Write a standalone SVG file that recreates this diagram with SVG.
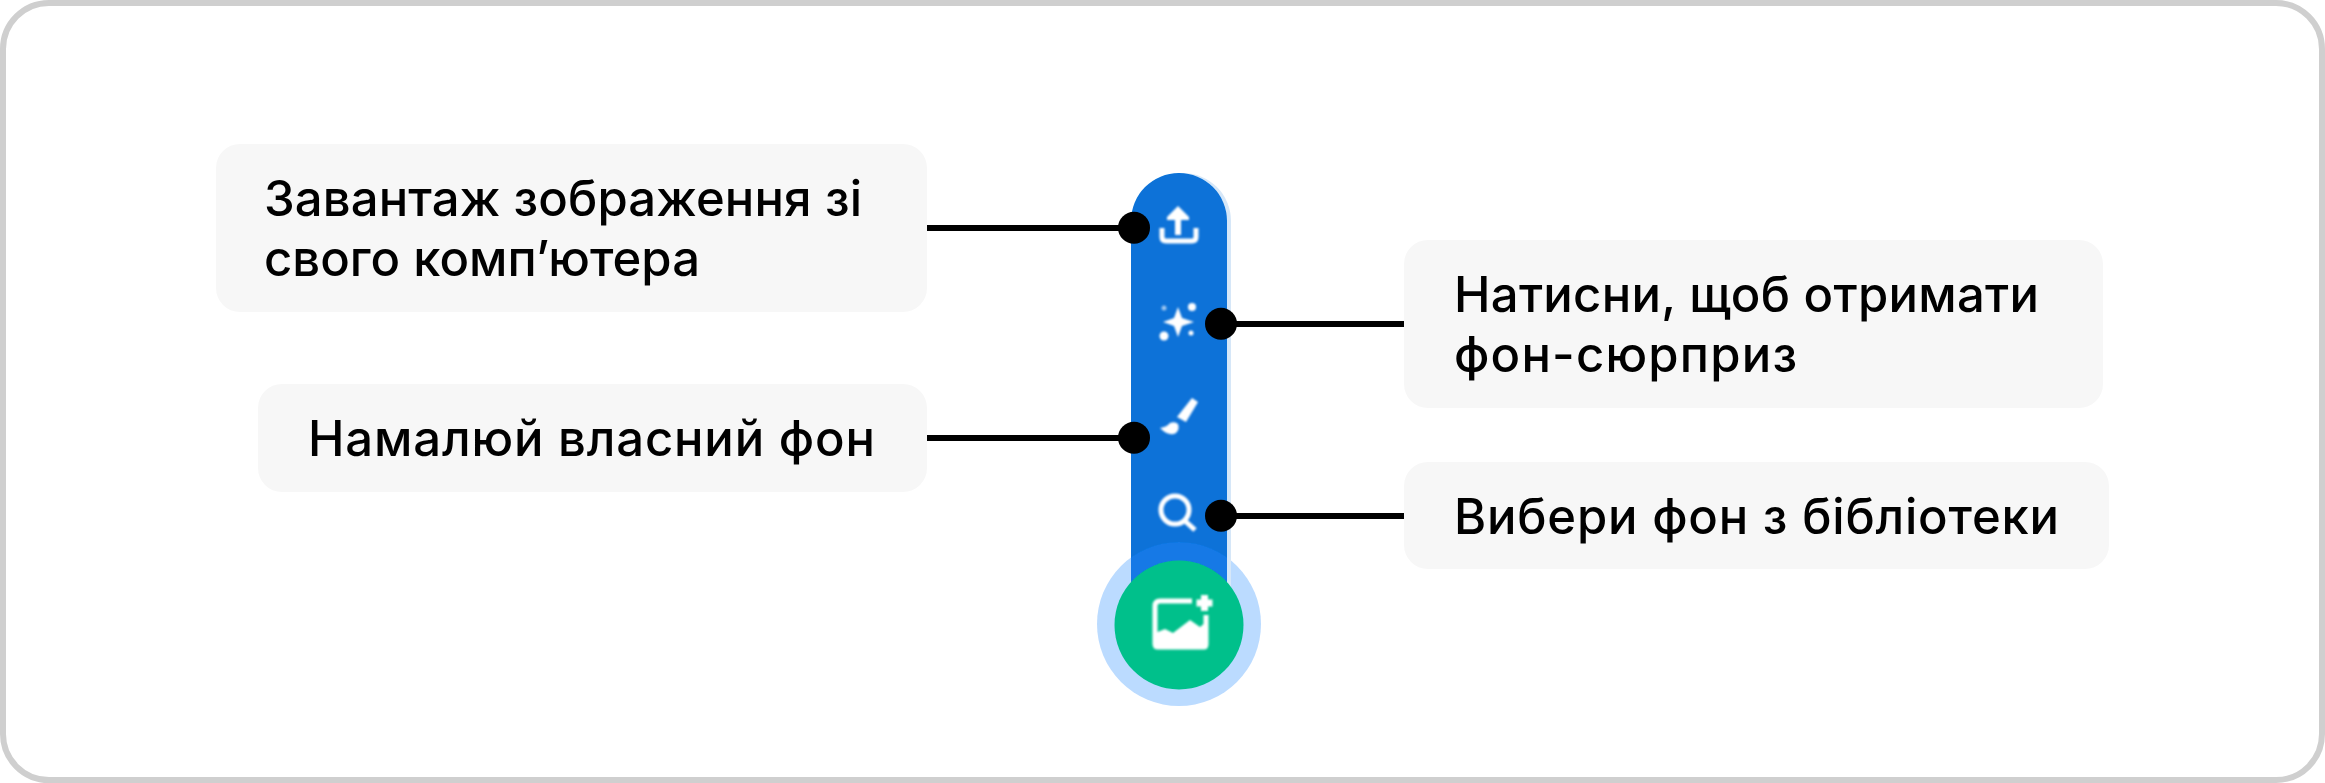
<svg xmlns="http://www.w3.org/2000/svg" width="2325" height="783" viewBox="0 0 2325 783">
  <style>
    .box { fill: #f7f7f7; }
    .label { font-family: "Inter", "Noto Sans", sans-serif; font-size: 49px; font-weight: 500; fill: #000; }
    .wire { stroke: #000; stroke-width: 6; fill: none; }
    .dot { fill: #000; }
    .ico { fill: none; stroke: #fff; stroke-width: 5; }
    .ico-fill { fill: #fff; }
  </style>
  <defs>
    <filter id="soft" x="-20%" y="-20%" width="140%" height="140%"><feGaussianBlur stdDeviation="1"/></filter>
    <filter id="edge" x="-5%" y="-5%" width="110%" height="110%"><feGaussianBlur stdDeviation="0.7"/></filter>
    <clipPath id="barClip"><path d="M1131 600V221a48 48 0 0 1 96 0V600Z"/></clipPath>
  </defs>

  <rect x="3" y="3" width="2319" height="777" rx="46" fill="#fff" stroke="#cfcfcf" stroke-width="6"/>

  <g id="toolbar" filter="url(#edge)">
    <circle cx="1179" cy="624" r="82" fill="#bbdbff"/>
    <path d="M1131 600V221a48 48 0 0 1 96 0V600Z" fill="#d6e7f8" transform="translate(4 0)"/>
    <path d="M1131 600V221a48 48 0 0 1 96 0V600Z" fill="#0872d8"/>
    <circle cx="1179" cy="624" r="82" fill="#1279e6" clip-path="url(#barClip)"/>
    <circle cx="1179" cy="625" r="64.500" fill="#00c08b"/>
  </g>

  <g id="icon-upload" filter="url(#soft)">
    <path class="ico-fill" d="M1178 206l11 11v3h-8v15h-6v-15h-8v-3Z"/>
    <path class="ico" d="M1162 228v9q0 4 4 4h26q4 0 4-4v-9"/>
  </g>
  <g id="icon-surprise" filter="url(#soft)">
    <path class="ico-fill" d="M1178 307l4 11L1194 322l-12 4L1178 337l-4-11L1163 322l11-4Z"/>
    <circle class="ico-fill" cx="1192" cy="307" r="4"/>
    <circle class="ico-fill" cx="1164" cy="336" r="4.500"/>
    <circle class="ico-fill" cx="1164" cy="308" r="2.500" opacity=".6"/>
    <circle class="ico-fill" cx="1191" cy="333" r="2.500"/>
  </g>
  <g id="icon-paint" filter="url(#soft)">
    <path class="ico-fill" d="M1192 398l6 4-12 20-9-5Z"/>
    <path class="ico-fill" d="M1160 428q7-1 10-5 5-2 8 1 2 5-2 9-7 4-16-5Z"/>
  </g>
  <g id="icon-search" filter="url(#soft)">
    <circle class="ico" cx="1175" cy="510" r="14"/>
    <path class="ico" d="M1184 520l11 10"/>
  </g>
  <g id="icon-backdrop" filter="url(#soft)">
    <path class="ico" d="M1192 601H1160q-5 0-5 5v38q0 3 3 3h46q2 0 2-3v-29"/>
    <path class="ico-fill" d="M1155 633l10-4 8 4 17-13 10 7 6-5v26h-51Z"/>
    <path class="ico-fill" d="M1201 595h7v4.500h4.500v7H1208v4.500h-7v-4.500h-4.500v-7h4.500Z"/>
  </g>

  <g id="connectors">
    <path class="wire" d="M927 228H1134"/>
    <path class="wire" d="M1221 324H1404"/>
    <path class="wire" d="M927 438H1134"/>
    <path class="wire" d="M1221 516H1404"/>
    <circle class="dot" cx="1134" cy="227.700" r="16"/>
    <circle class="dot" cx="1221" cy="323.700" r="16"/>
    <circle class="dot" cx="1134" cy="437.700" r="16"/>
    <circle class="dot" cx="1221" cy="515.700" r="16"/>
  </g>

  <g id="label-upload">
    <rect class="box" x="216" y="144" width="711" height="168" rx="24"/>
    <text class="label" x="264" y="216" textLength="598">Завантаж зображення зі</text>
    <text class="label" x="264" y="276" textLength="436">свого комп’ютера</text>
  </g>
  <g id="label-paint">
    <rect class="box" x="258" y="384" width="669" height="108" rx="24"/>
    <text class="label" x="308" y="456" textLength="567">Намалюй власний фон</text>
  </g>
  <g id="label-surprise">
    <rect class="box" x="1404" y="240" width="699" height="168" rx="24"/>
    <text class="label" x="1454" y="312" textLength="585">Натисни, щоб отримати</text>
    <text class="label" x="1454" y="372" textLength="343">фон-сюрприз</text>
  </g>
  <g id="label-library">
    <rect class="box" x="1404" y="462" width="705" height="107" rx="24"/>
    <text class="label" x="1454" y="534" textLength="605">Вибери фон з бібліотеки</text>
  </g>
</svg>
